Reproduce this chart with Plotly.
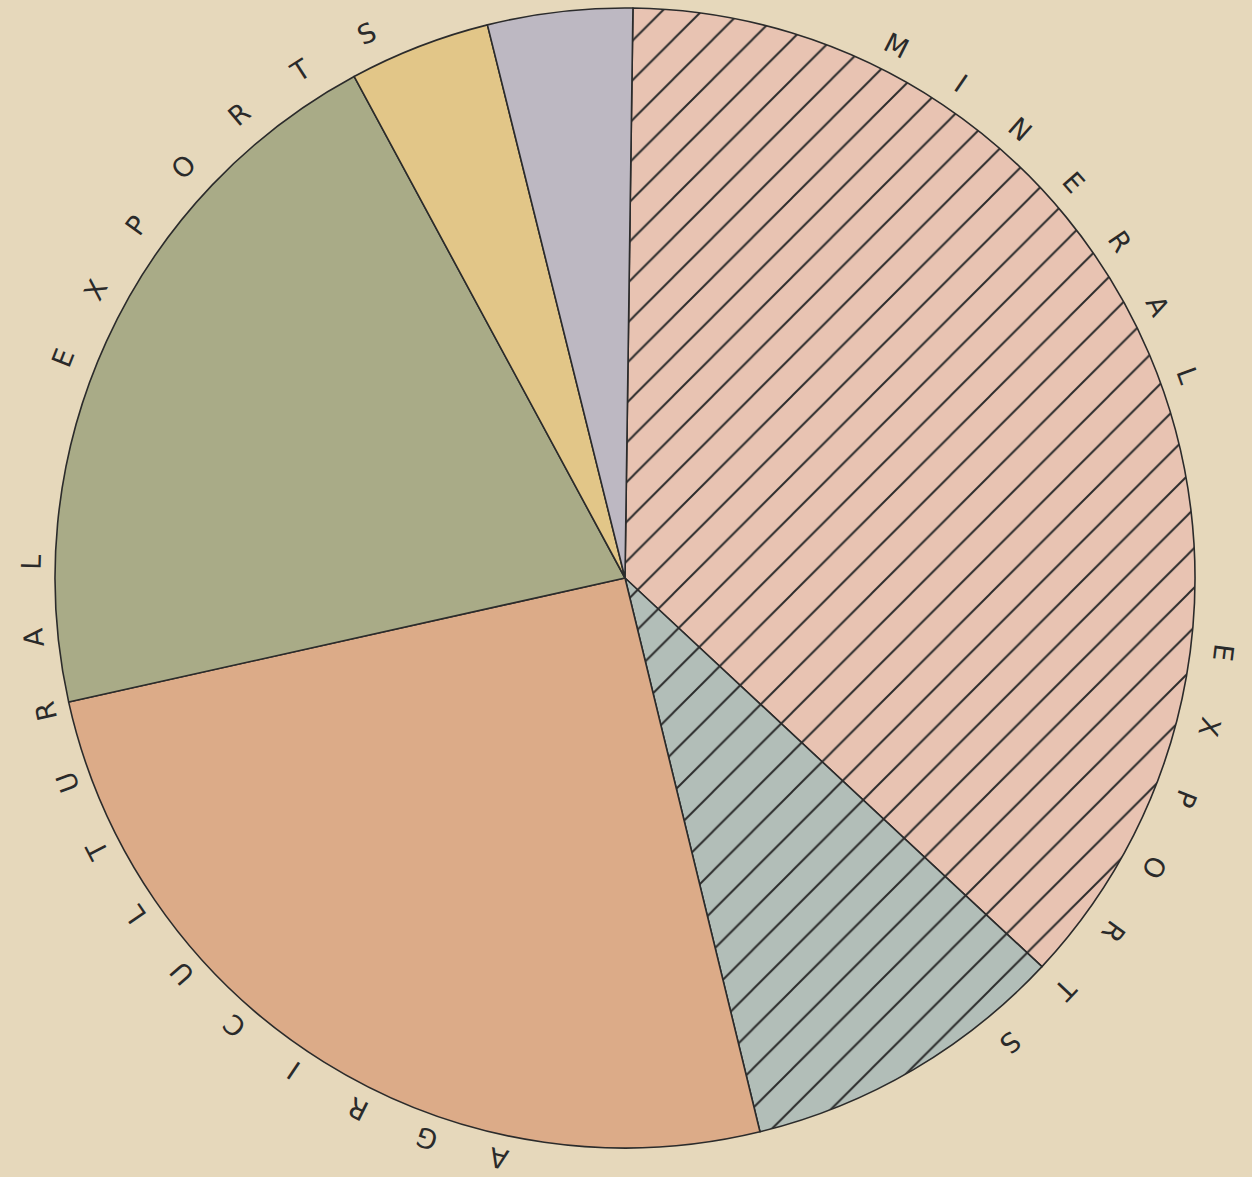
import math
import plotly.graph_objects as go

# ---- data ----
categories = ["Mineral A", "Mineral B", "Agricultural A", "Agricultural B",
              "Agricultural C", "Agricultural D"]
shares = [36.7, 9.25, 25.3, 20.6, 4.0, 4.1]
slice_colors = ["#e8c3b2", "#b2beb8", "#dcab88", "#a9ab87", "#e2c688", "#bdb8c2"]
slice_patterns = ["/", "/", "", "", "", ""]

ring_words = ["MINERAL", "EXPORTS", "AGRICULTURAL", "EXPORTS"]
word_start_angles = [27.0, 97.1, 192.3, 291.4]   # degrees clockwise from 12 o'clock
letter_step = 7.2

W, H = 1252, 1177
cx, cy, R = 625, 578, 570
word_radii = [598, 603, 594, 603]
BG = "#e6d8bb"

fig = go.Figure(go.Pie(
    labels=categories,
    values=shares,
    sort=False,
    direction="clockwise",
    rotation=0.8,
    textinfo="none",
    hoverinfo="label+percent",
    showlegend=False,
    marker=dict(
        colors=slice_colors,
        line=dict(color="#2b2b2b", width=1.6),
        pattern=dict(shape=slice_patterns, fgcolor="#2b2b2b", fgopacity=1,
                     bgcolor=slice_colors, size=28, solidity=0.07),
    ),
    domain=dict(x=[(cx - R) / W, (cx + R) / W],
                y=[1 - (cy + R) / H, 1 - (cy - R) / H]),
))

annotations = []
for word, a0, lr in zip(ring_words, word_start_angles, word_radii):
    for i, ch in enumerate(word):
        ang = a0 + i * letter_step
        rad = math.radians(ang)
        px = cx + lr * math.sin(rad)
        py = cy - lr * math.cos(rad)
        annotations.append(dict(
            text=ch, x=px / W, y=1 - py / H, xref="paper", yref="paper",
            xanchor="center", yanchor="middle", showarrow=False,
            textangle=ang if ang <= 180 else ang - 360,
            font=dict(family="DejaVu Sans", size=27, color="#2a2a2a"),
        ))

fig.update_layout(
    width=W, height=H,
    margin=dict(l=0, r=0, t=0, b=0),
    paper_bgcolor=BG,
    plot_bgcolor=BG,
    annotations=annotations,
)

fig.write_html(
    "out.html",
    config={"displayModeBar": False},
    post_script="document.body.style.margin='0';document.body.style.background='%s';" % BG,
)
